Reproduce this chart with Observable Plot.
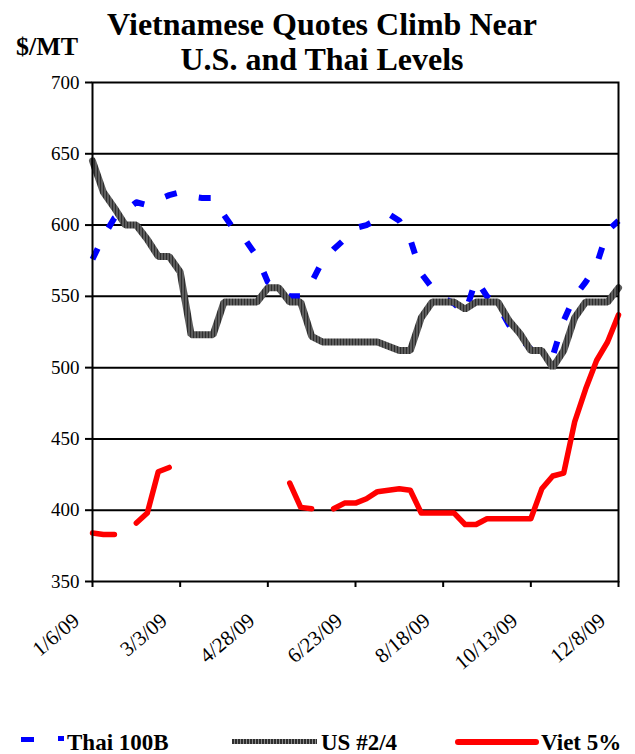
<!DOCTYPE html>
<html>
<head>
<meta charset="utf-8">
<script src="https://cdn.jsdelivr.net/npm/d3@7"></script>
<script src="https://cdn.jsdelivr.net/npm/@observablehq/plot@0.6"></script>
<style>
  html, body { margin: 0; padding: 0; background: #fff; }
  #wrap { position: relative; width: 635px; height: 754px; overflow: hidden; font-family: 'Liberation Serif', 'Times New Roman', serif; color: #000; }
  #title { position: absolute; left: 0; top: 7px; width: 644px; text-align: center; font-weight: bold; font-size: 32px; line-height: 35px; }
  #unit { position: absolute; left: 16px; top: 34px; font-weight: bold; font-size: 26px; line-height: 26px; }
  #chart { position: absolute; left: 0; top: 0; }
  .lg { position: absolute; }
  .lgt { position: absolute; top: 731px; font-weight: bold; font-size: 23px; line-height: 23px; white-space: nowrap; }
</style>
</head>
<body>
<div id="wrap">
  <div id="chart"></div>
  <div id="title">Vietnamese Quotes Climb Near<br>U.S. and Thai Levels</div>
  <div id="unit">$/MT</div>
  <div class="lg" style="left:21px; top:737px; width:13px; height:5px; background:#0000ff;"></div>
  <div class="lg" style="left:58px; top:736px; width:6px; height:5px; background:#0000ff;"></div>
  <div class="lgt" style="left:67px;">Thai 100B</div>
  <div class="lg" style="left:232px; top:739px; width:85px; height:5px; background: repeating-linear-gradient(90deg, #2e2e2e 0px, #2e2e2e 2px, #8a8a8a 2px, #8a8a8a 3px);"></div>
  <div class="lgt" style="left:321px;">US #2/4</div>
  <div class="lg" style="left:455px; top:739px; width:84px; height:6px; border-radius:3px; background:#ff0000;"></div>
  <div class="lgt" style="left:541px;">Viet 5%</div>
</div>
<script>
// Weekly quote dates (Tuesdays, 2009)
const dates = [
  "2009-01-06","2009-01-13","2009-01-20","2009-01-27","2009-02-03","2009-02-10","2009-02-17","2009-02-24",
  "2009-03-03","2009-03-10","2009-03-17","2009-03-24","2009-03-31","2009-04-07","2009-04-14","2009-04-21",
  "2009-04-28","2009-05-05","2009-05-12","2009-05-19","2009-05-26","2009-06-02","2009-06-09","2009-06-16",
  "2009-06-23","2009-06-30","2009-07-07","2009-07-14","2009-07-21","2009-07-28","2009-08-04","2009-08-11",
  "2009-08-18","2009-08-25","2009-09-01","2009-09-08","2009-09-15","2009-09-22","2009-09-29","2009-10-06",
  "2009-10-13","2009-10-20","2009-10-27","2009-11-03","2009-11-10","2009-11-17","2009-11-24","2009-12-01",
  "2009-12-08"
];

// Thai 100B ($/MT)
const thai = [
  576, 592, 605, 610, 616, 614, 618, 621,
  623, 620, 619, 619, 607, 596, 589, 578,
  560, 555, 550, 550, 560, 575, 583, 590,
  598, 600, 604, 608, 603, 590, 566, 556,
  549, 545, 538, 562, 550, 544, 530, 521,
  513, 510, 508, 533, 550, 560, 572, 596,
  603
];

// US #2/4 ($/MT)
const us = [
  645, 623, 612, 600, 600, 590, 578, 578,
  567, 523, 523, 523, 546, 546, 546, 546,
  556, 556, 546, 546, 522, 518, 518, 518,
  518, 518, 518, 515, 512, 512, 535, 546,
  546, 546, 541, 546, 546, 546, 533, 524,
  512, 512, 500, 512, 535, 546, 546, 546,
  556
];

// Viet 5% ($/MT), null = no quote
const viet = [
  384, 383, 383, null, 391, 398, 427, 430,
  null, null, null, null, null, null, null, null,
  null, null, 419, 402, 401, null, 401, 405,
  405, 408, 413, 414, 415, 414, 398, 398,
  398, 398, 390, 390, 394, 394, 394, 394,
  394, 415, 424, 426, 462, 485, 505, 518,
  537
];

const yTicks = [350, 400, 450, 500, 550, 600, 650, 700];
const gridValues = [400, 450, 500, 550, 600, 650];
const xTickLabels = ["2009-01-06","2009-03-03","2009-04-28","2009-06-23","2009-08-18","2009-10-13","2009-12-08"];

const rows = dates.map((d, i) => ({date: new Date(d), thai: thai[i], us: us[i], viet: viet[i]}));
const xTicks = xTickLabels.map(d => new Date(d));
const fmt = d => `${d.getUTCMonth() + 1}/${d.getUTCDate()}/${String(d.getUTCFullYear()).slice(2)}`;

const chart = Plot.plot({
  width: 635,
  height: 700,
  marginTop: 82,
  marginLeft: 92,
  marginRight: 17,
  marginBottom: 119,
  style: {fontFamily: "'Liberation Serif', 'Times New Roman', serif", fontSize: "19px", color: "black", background: "transparent", overflow: "visible"},
  x: {type: "utc", domain: [new Date(dates[0]), new Date(dates[dates.length - 1])]},
  y: {domain: [350, 700]},
  marks: [
    Plot.ruleY(gridValues, {stroke: "black", strokeWidth: 2}),
    Plot.line(rows, {x: "date", y: "thai", stroke: "#0000ff", strokeWidth: 6, strokeDasharray: "12,23", strokeLinecap: "butt"}),
    Plot.line(rows, {x: "date", y: "us", stroke: "url(#usStripes)", strokeWidth: 7, strokeLinejoin: "miter"}),
    Plot.line(rows, {x: "date", y: "viet", stroke: "#ff0000", strokeWidth: 5.5, strokeLinecap: "round", strokeLinejoin: "round"}),
    Plot.frame({stroke: "black", strokeWidth: 2}),
    Plot.axisY({ticks: yTicks, tickSize: 7, tickPadding: 6, strokeWidth: 2, fontSize: 19, tickFormat: d => String(d), label: null}),
    Plot.axisX({ticks: xTicks, tickSize: 6, strokeWidth: 2, tickFormat: () => "", label: null}),
    Plot.text(xTicks, {x: d => d, text: fmt, frameAnchor: "bottom", dy: 36, dx: -16, rotate: -40, textAnchor: "end", lineAnchor: "middle", fontSize: 21, fill: "black"})
  ]
});

// Striped pattern for the US series (Excel-like texture)
const ns = "http://www.w3.org/2000/svg";
const defs = document.createElementNS(ns, "defs");
const pat = document.createElementNS(ns, "pattern");
pat.setAttribute("id", "usStripes");
pat.setAttribute("patternUnits", "userSpaceOnUse");
pat.setAttribute("width", "3");
pat.setAttribute("height", "10");
const r1 = document.createElementNS(ns, "rect");
r1.setAttribute("width", "3"); r1.setAttribute("height", "10"); r1.setAttribute("fill", "#2e2e2e");
const r2 = document.createElementNS(ns, "rect");
r2.setAttribute("x", "2"); r2.setAttribute("width", "1"); r2.setAttribute("height", "10"); r2.setAttribute("fill", "#8a8a8a");
pat.appendChild(r1); pat.appendChild(r2);
defs.appendChild(pat);
chart.insertBefore(defs, chart.firstChild);

document.getElementById("chart").appendChild(chart);
</script>
</body>
</html>
